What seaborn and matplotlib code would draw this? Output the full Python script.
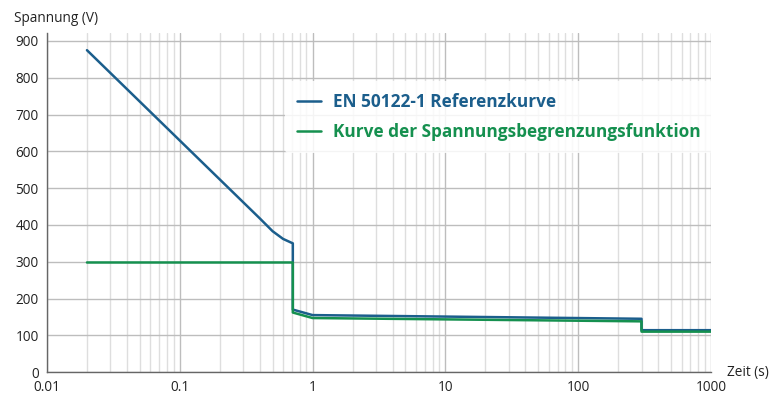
import seaborn as sns
import matplotlib.pyplot as plt
import pandas as pd
from matplotlib.ticker import LogLocator, FixedLocator, NullFormatter

# curve data
ref_time = [0.02, 0.4, 0.5, 0.6, 0.71, 0.71, 1.0, 300, 300, 1000]
ref_volt = [875, 418, 383, 362, 350, 170, 155, 145, 114, 114]
lim_time = [0.02, 0.71, 0.71, 1.0, 300, 300, 1000]
lim_volt = [298, 298, 162, 147, 138, 110, 110]

ref_label = 'EN 50122-1 Referenzkurve'
lim_label = 'Kurve der Spannungsbegrenzungsfunktion'
blue = '#1b5e8c'
green = '#15904f'

sns.set_style('white')
plt.rcParams['font.family'] = ['Open Sans', 'DejaVu Sans']

df = pd.concat([
    pd.DataFrame({'Zeit': ref_time, 'Spannung': ref_volt, 'Kurve': ref_label}),
    pd.DataFrame({'Zeit': lim_time, 'Spannung': lim_volt, 'Kurve': lim_label}),
])

fig = plt.figure(figsize=(7.83, 4.01), dpi=100)
ax = fig.add_axes([0.060, 0.072, 0.848, 0.846])

sns.lineplot(data=df, x='Zeit', y='Spannung', hue='Kurve', sort=False, estimator=None,
             palette={ref_label: blue, lim_label: green}, linewidth=1.8, ax=ax)

ax.set_xscale('log')
ax.set_xlim(0.01, 1000)
ax.set_ylim(0, 922)
ax.set_yticks(range(0, 1000, 100))
ax.xaxis.set_major_locator(FixedLocator([0.01, 0.1, 1, 10, 100, 1000]))
ax.set_xticklabels(['0.01', '0.1', '1', '10', '100', '1000'])
ax.xaxis.set_minor_locator(LogLocator(base=10, subs=range(2, 10)))
ax.xaxis.set_minor_formatter(NullFormatter())

ax.grid(True, which='major', color='#bdbdbd', linewidth=1.0)
ax.grid(True, which='minor', axis='x', color='#dedede', linewidth=1.0)
ax.set_axisbelow(True)
ax.tick_params(axis='both', which='both', length=0, labelsize=9.8, colors='#222222', pad=6)

for s in ['top', 'right']:
    ax.spines[s].set_visible(False)
for s in ['left', 'bottom']:
    ax.spines[s].set_color('#666666')
    ax.spines[s].set_linewidth(1.0)

ax.set_xlabel('')
ax.set_ylabel('')
fig.text(0.018, 0.955, 'Spannung (V)', fontsize=9.8, color='#222222', va='center')
fig.text(0.928, 0.072, 'Zeit (s)', fontsize=9.8, color='#222222', va='center')

leg = ax.legend(loc='upper left', bbox_to_anchor=(0.345, 0.885), frameon=True, fontsize=12.4,
                handlelength=1.4, handletextpad=0.7, labelspacing=0.7, borderpad=0.7)
leg.get_frame().set_facecolor('white')
leg.get_frame().set_alpha(0.85)
leg.get_frame().set_edgecolor('none')
for txt, col in zip(leg.get_texts(), [blue, green]):
    txt.set_color(col)
    txt.set_fontweight('bold')

fig.savefig('out.png', dpi=100)
